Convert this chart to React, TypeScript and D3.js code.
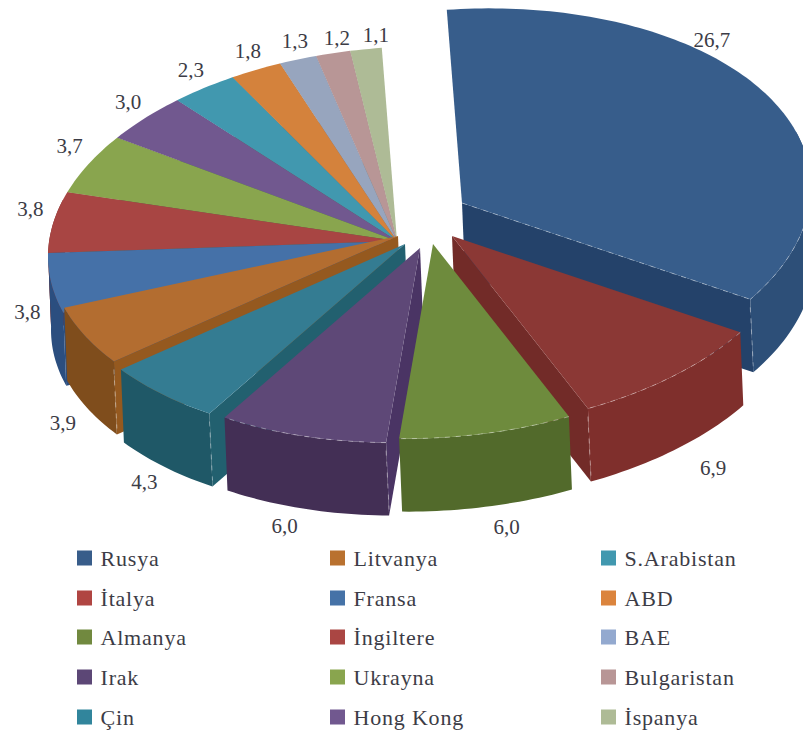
import React from "react";
import * as d3 from "d3";

// Import shares by partner country
const countries = ["Rusya", "İtalya", "Almanya", "Irak", "Çin", "Litvanya", "Fransa", "İngiltere", "Ukrayna", "Hong Kong", "S.Arabistan", "ABD", "BAE", "Bulgaristan", "İspanya"];
const shares = [26.7, 6.9, 6.0, 6.0, 4.3, 3.9, 3.8, 3.8, 3.7, 3.0, 2.3, 1.8, 1.3, 1.2, 1.1];

// Shading for the three visible faces of each wedge
const topColors = ["#375d8b", "#8b3835", "#6e8b3d", "#5e4877", "#347c92", "#b36d30", "#4571a8", "#a84543", "#89a54e", "#71588f", "#4198af", "#d4823c", "#97a5be", "#b89696", "#aebb96"];
const outerColors = ["#2d4f78", "#7f2f2c", "#526a2b", "#432f55", "#1f5867", "#7f4d1c", "#2b4e7f", "#7a2f2d", "#5f7535", "#4d3b63", "#2b6878", "#955827", "#6b7a90", "#8a6b6b", "#7f8a6b"];
const radialColors = ["#24426a", "#722b28", "#5a7330", "#4a3464", "#22606f", "#95591f", "#2b4e7f", "#7a2f2d", "#5f7535", "#4d3b63", "#2b6878", "#955827", "#6b7a90", "#8a6b6b", "#7f8a6b"];
const legendColors = ["#385d8a", "#b04542", "#71893f", "#5c4776", "#31859c", "#b9712f", "#4572a7", "#aa4643", "#89a54e", "#71588f", "#4198af", "#db843d", "#93a9cf", "#b89696", "#aebb96"];

// How far each wedge is pulled out of the pie, in pixels
const explodeX = [65, 55, 36, 23, 8, 1, 0, 0, 0, 0, 0, 0, 0, 0, 0];
const explodeY = [-38, -5, 3, 7, 3, -5, 0, 0, 0, 0, 0, 0, 0, 0, 0];

// Value label offset from the middle of each wedge's rim
const labelDX = [-55, 40, 21, -17, -17, -22, -24, -23, -19, -17, -13, -8, -3, 4, 10];
const labelDY = [-55, 91, 93, 90, 88, 87, 28, -14, -18, -16, -18, -19, -19, -16, -15];

const WIDTH = 803;
const HEIGHT = 733;
const CX = 397;
const CY = 241;
const RX = 349;
const RY = 194;
const TILT = -0.045;
const DEPTH_X = 3;
const DEPTH_Y = 73;
const START = (-2.5 * Math.PI) / 180;
const DASHED_RIMS = 4;

const LEGEND_X = [77, 330, 601];
const LEGEND_Y = [558, 598, 637, 677, 717];

const FONT = "'Liberation Serif', serif";
const TEXT = "#3c3c46";

const pieLayout = d3
  .pie<number>()
  .sort(null)
  .startAngle(START)
  .endAngle(START + 2 * Math.PI);

type P = [number, number];
const toPath = d3.line<P>();

export default function App() {
  const arcs = pieLayout(shares);
  const radius = d3.scaleLinear().domain([0, 1]).range([0, RX]);

  const project = (i: number, angle: number, r: number): P => {
    const sx = radius(r) * Math.sin(angle);
    const sy = -radius(r) * (RY / RX) * Math.cos(angle);
    return [CX + explodeX[i] + sx, CY + explodeY[i] + sy + TILT * sx];
  };
  const drop = (p: P): P => [p[0] + DEPTH_X, p[1] + DEPTH_Y];
  const sweep = (a0: number, a1: number): number[] => {
    const n = Math.max(2, Math.ceil((a1 - a0) / 0.02));
    return d3.range(n + 1).map((k) => a0 + ((a1 - a0) * k) / n);
  };

  // Back wedges first, the one nearest the viewer last
  const order = d3.range(arcs.length).sort((a, b) => {
    const mid = (k: number) => (arcs[k].startAngle + arcs[k].endAngle) / 2;
    return Math.abs(mid(b) - Math.PI) - Math.abs(mid(a) - Math.PI);
  });

  return (
    <svg
      width={WIDTH}
      height={HEIGHT}
      viewBox={`0 0 ${WIDTH} ${HEIGHT}`}
      style={{ position: "absolute", left: 0, top: 0, background: "#fff" }}
    >
      {order.map((i) => {
        const { startAngle: a0, endAngle: a1 } = arcs[i];
        const apex = project(i, 0, 0);
        const angles = sweep(a0, a1);
        const arc = angles.map((a) => project(i, a, 1));
        // The rim wall only shows along the part of the rim facing the viewer
        const wall = angles.filter((a) => Math.cos(a) < 0.3).map((a) => project(i, a, 1));
        const first = arc[0];
        const last = arc[arc.length - 1];
        // A cut face is visible only when it turns toward the viewer
        const firstVisible = a0 > Math.PI;
        const lastVisible = a1 < Math.PI;
        const corner = firstVisible && i < 6 ? first : lastVisible ? last : null;
        return (
          <g key={countries[i]}>
            {firstVisible && <path d={toPath([apex, first, drop(first), drop(apex)])! + "Z"} fill={radialColors[i]} />}
            {lastVisible && <path d={toPath([apex, last, drop(last), drop(apex)])! + "Z"} fill={radialColors[i]} />}
            {wall.length > 1 && <path d={toPath([...wall, ...wall.map(drop).reverse()])! + "Z"} fill={outerColors[i]} />}
            <path d={toPath([apex, ...arc])! + "Z"} fill={topColors[i]} />
            <g fill="none" stroke="#fff" strokeOpacity={0.38} strokeWidth={1} strokeDasharray="5 6">
              {i < DASHED_RIMS && <path d={toPath(arc.filter((p) => p[1] > CY - 60))!} />}
              {i === 0 && <path d={toPath([apex, last])!} />}
              {corner && (
                <line x1={corner[0]} y1={corner[1] + 8} x2={corner[0] + DEPTH_X} y2={corner[1] + DEPTH_Y - 6} />
              )}
            </g>
          </g>
        );
      })}

      {arcs.map((a, i) => {
        const p = project(i, (a.startAngle + a.endAngle) / 2, 1);
        return (
          <text
            key={countries[i]}
            x={p[0] + labelDX[i]}
            y={p[1] + labelDY[i]}
            dy="0.35em"
            textAnchor="middle"
            fontFamily={FONT}
            fontSize={21}
            fill={TEXT}
          >
            {shares[i].toFixed(1).replace(".", ",")}
          </text>
        );
      })}

      {countries.map((name, i) => {
        const x = LEGEND_X[Math.floor(i / LEGEND_Y.length)];
        const y = LEGEND_Y[i % LEGEND_Y.length];
        return (
          <g key={name}>
            <rect x={x} y={y - 7.5} width={15} height={15} fill={legendColors[i]} />
            <text
              x={x + 23.5}
              y={y}
              dy="0.35em"
              fontFamily={FONT}
              fontSize={22}
              letterSpacing={0.8}
              fill={TEXT}
            >
              {name}
            </text>
          </g>
        );
      })}
    </svg>
  );
}
